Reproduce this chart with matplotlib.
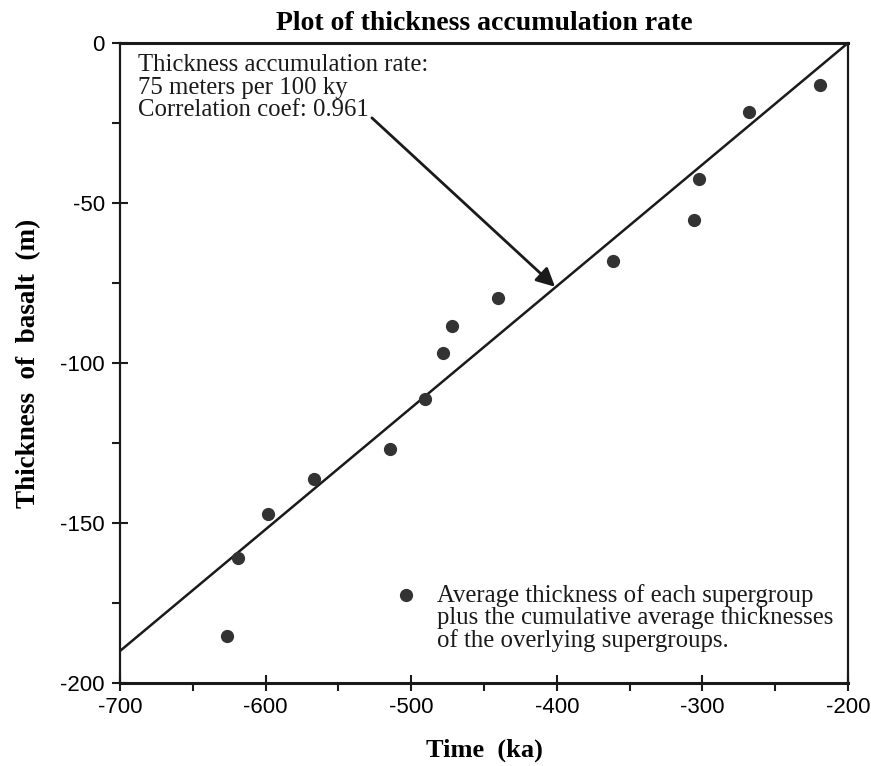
import numpy
from matplotlib import pyplot
from matplotlib.ticker import MultipleLocator

pyplot.rcParams['axes.unicode_minus'] = False

# time (ka) and cumulative thickness (m) of each supergroup
time_ka = [-626.5, -619, -598.4, -566.8, -514.6, -490.5, -478.2, -472,
           -440.4, -361.4, -305.8, -302.3, -268, -219.2]
thickness_m = [-185.3, -160.9, -147.2, -136.3, -126.9, -111.3, -96.9, -88.4,
               -79.7, -68.1, -55.3, -42.5, -21.6, -13.1]

# regression line end points
fit_x = [-700, -200]
fit_y = [-190, 0]

x_ticks = [-700, -600, -500, -400, -300, -200]
y_ticks = [-200, -150, -100, -50, 0]

serif = ['Liberation Serif', 'DejaVu Serif']
sans = ['Liberation Sans', 'DejaVu Sans']

fig = pyplot.figure(figsize=(8.71, 7.66), dpi=100)
ax = fig.add_axes([0.1378, 0.1084, 0.8358, 0.8355])

ax.plot(fit_x, fit_y, color='#1a1a1a', lw=1.8, solid_capstyle='butt')
ax.plot(time_ka, thickness_m, 'o', color='#333333', ms=8.5)

ax.set_xlim(-700, -200)
ax.set_ylim(-200, 0)
ax.set_xticks(x_ticks)
ax.set_yticks(y_ticks)
ax.xaxis.set_minor_locator(MultipleLocator(50))
ax.yaxis.set_minor_locator(MultipleLocator(25))
ax.tick_params(axis='both', which='major', direction='inout', length=12, width=1.5,
               labelsize=16, color='#1a1a1a')
ax.tick_params(axis='x', which='major', pad=4)
ax.tick_params(axis='y', which='major', pad=5)
ax.tick_params(axis='both', which='minor', direction='out', length=6, width=1.5,
               color='#1a1a1a')
for label in ax.get_xticklabels() + ax.get_yticklabels():
    label.set_family(sans)
for side, spine in ax.spines.items():
    spine.set_linewidth(2.2 if side in ('bottom', 'top') else 1.6)
    spine.set_color('#1a1a1a')

ax.set_title('Plot of thickness accumulation rate', family=serif,
             fontweight='bold', fontsize=20, pad=9)
ax.set_xlabel('Time  (ka)', family=serif, fontweight='bold', fontsize=19, labelpad=15)
ax.set_ylabel('Thickness  of  basalt  (m)', family=serif, fontweight='bold',
              fontsize=19.5, labelpad=14)

ax.text(0.025, 0.982, 'Thickness accumulation rate:\n75 meters per 100 ky\nCorrelation coef: 0.961',
        transform=ax.transAxes, family=serif, fontsize=17.8, va='top', ha='left',
        linespacing=1.02, color='#1a1a1a')
ax.annotate('', xy=(-401.2, -76.2), xytext=(-527, -23.4),
            arrowprops=dict(arrowstyle='-|>', lw=2, color='#1a1a1a',
                            mutation_scale=28, shrinkA=0, shrinkB=0))

# key for the dots
ax.plot([0.393], [0.1375], 'o', color='#333333', ms=8.5, transform=ax.transAxes)
ax.text(0.436, 0.155, 'Average thickness of each supergroup\nplus the cumulative average thicknesses\nof the overlying supergroups.',
        transform=ax.transAxes, family=serif, fontsize=17.8, va='top', ha='left',
        linespacing=1.02, color='#1a1a1a')

pyplot.savefig('out.png', dpi=100)
